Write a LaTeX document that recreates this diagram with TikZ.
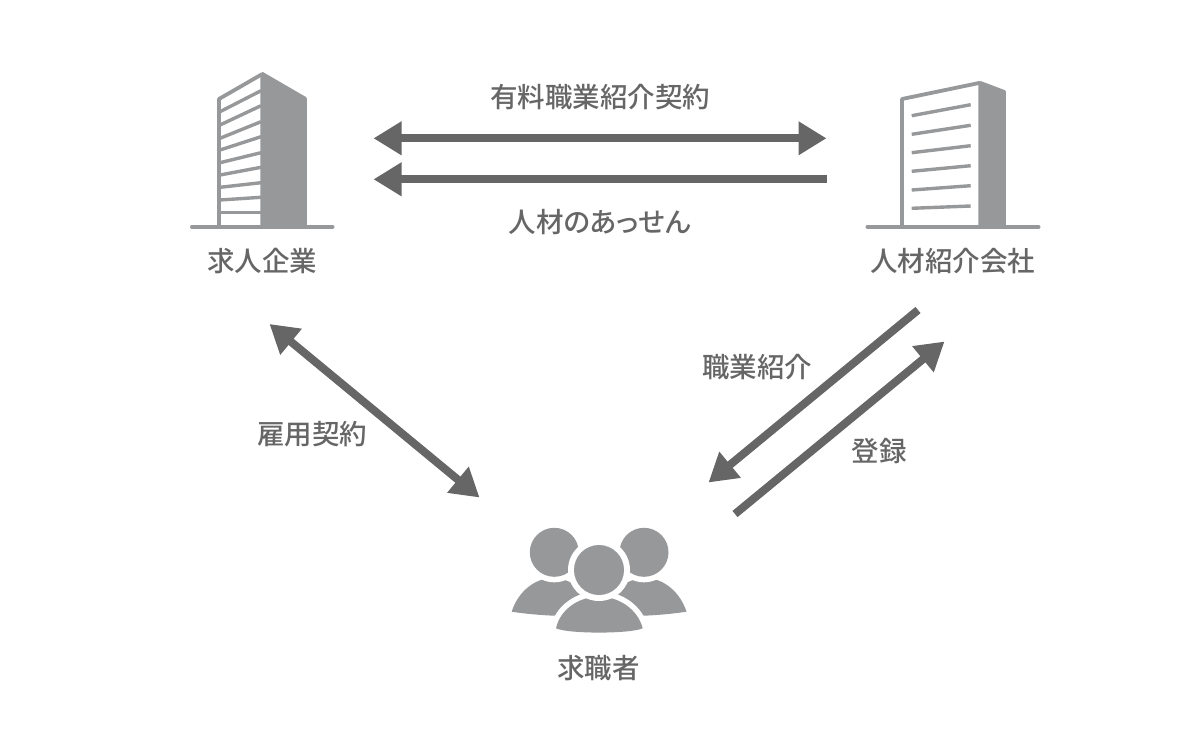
\documentclass[tikz,border=0pt]{standalone}
\usepackage{fontspec}
\setmainfont[RawFeature={+palt}]{Noto Sans CJK JP Medium}
\usetikzlibrary{arrows.meta}
\definecolor{icon}{HTML}{97989A}
\definecolor{conn}{HTML}{666666}
\tikzset{
  label text/.style={text=conn,inner sep=0pt,font=\fontsize{27.5}{27.5}\selectfont},
  link/.style={draw=conn,line width=8pt,-{Triangle[length=28pt,width=32pt]}},
  duplex/.style={draw=conn,line width=8pt,{Triangle[length=28pt,width=32pt]}-{Triangle[length=28pt,width=32pt]}},
  ground/.style={draw=icon,line width=4pt,line cap=round},
  slat/.style={draw=icon,line width=3.4pt},
  frame line/.style={draw=icon,line width=3.8pt},
  solid icon/.style={fill=icon,draw=none},
  halo/.style={fill=white,draw=none}
}
\begin{document}
\begin{tikzpicture}[x=1pt,y=-1pt]
\useasboundingbox (0,0) rectangle (1200,750);
% left building
\draw[solid icon,rounded corners=1pt] (260.3,226) -- (260.3,75) -- (262,71.5) -- (306.8,97.5) -- (306.8,226) -- cycle;
\draw[frame line,line join=round] (219,226) -- (219,99) -- (262,74.2);
\foreach \a/\b in {111.7/90.7,125/105.7,138.3/121.7,150/136.7,162.7/152.7,175/167.3,187.3/182.7,200/197.3,212.7/212.7}{
  \draw[slat] (220,\a) -- (261,\b);
}
\draw[ground] (192,226.8) -- (332.5,226.8);
% right building
\draw[solid icon,rounded corners=1pt] (978.3,226) -- (978.3,84) -- (980,80.8) -- (1005.8,90.5) -- (1005.8,226) -- cycle;
\draw[frame line,line join=round] (902,226) -- (902,99) -- (980,82.8);
\foreach \a/\b in {115.7/104.7,134.3/125.3,152.7/145.7,171.3/165.7,190/185.7,208.3/206}{
  \draw[slat] (911.7,\a) -- (970.7,\b);
}
\draw[ground] (867.5,226.8) -- (1038.5,226.8);
% people
\fill[solid icon] (511.7,611.7) .. controls (517,594) and (533,578) .. (553,578) .. controls (574,578) and (590,596) .. (596,615) .. controls (570,617) and (540,616) .. (511.7,611.7) -- cycle;
\fill[solid icon] (686.5,611.7) .. controls (681,594) and (665,578) .. (645,578) .. controls (624,578) and (608,596) .. (602,615) .. controls (628,617) and (658,616) .. (686.5,611.7) -- cycle;
\fill[halo] (554.3,552.3) circle (30);
\fill[halo] (644,552.3) circle (30);
\fill[solid icon] (554.3,552.3) circle (24.5);
\fill[solid icon] (644,552.3) circle (24.5);
\fill[solid icon,preaction={draw=white,line width=11pt}] (556,628.3) .. controls (560,610) and (578,596.7) .. (599,596.7) .. controls (620,596.7) and (638,610) .. (642.7,628.3) .. controls (630,634) and (568,634) .. (556,628.3) -- cycle;
\fill[halo] (599,570) circle (31);
\fill[solid icon] (599,570) circle (25);
% labels
\node[label text] (contract) at (600,97) {有料職業紹介契約};
\node[label text] (placement) at (600,222) {人材のあっせん};
\node[label text] (company) at (262,261) {求人企業};
\node[label text] (agency) at (952.5,261) {人材紹介会社};
\node[label text] (intro) at (757,367) {職業紹介};
\node[label text] (register) at (879,451) {登録};
\node[label text] (employ) at (312,434) {雇用契約};
\node[label text] (seeker) at (598.5,668) {求職者};
% connectors
\coordinate (c1a) at (373.5,138.3);
\coordinate (c1b) at (826.5,138.3);
\coordinate (c2a) at (826.5,179.3);
\coordinate (c2b) at (373.5,179.3);
\coordinate (c3a) at (269.5,324);
\coordinate (c3b) at (479.5,497.5);
\coordinate (c4a) at (918,310);
\coordinate (c4b) at (708.5,482.5);
\coordinate (c5a) at (735,514);
\coordinate (c5b) at (944.5,341.5);
\draw[duplex] (c1a) -- (c1b);
\draw[link] (c2a) -- (c2b);
\draw[duplex] (c3a) -- (c3b);
\draw[link] (c4a) -- (c4b);
\draw[link] (c5a) -- (c5b);
\end{tikzpicture}
\end{document}
